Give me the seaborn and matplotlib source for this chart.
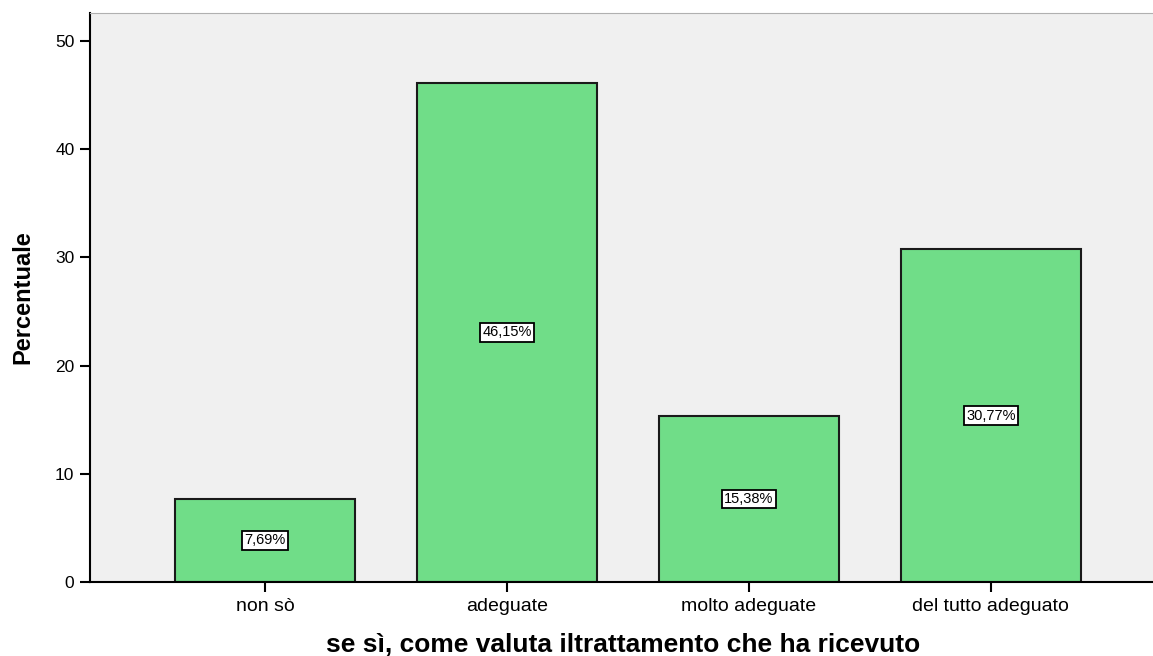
import pandas as pd
import seaborn as sns
import matplotlib.pyplot as plt

# Data
categorie = ['non sò', 'adeguate', 'molto adeguate', 'del tutto adeguato']
percentuali = [7.69, 46.15, 15.38, 30.77]
etichette = ['7,69%', '46,15%', '15,38%', '30,77%']

df = pd.DataFrame({'categoria': categorie, 'percentuale': percentuali})

sns.set_style('white')
plt.rcParams['font.family'] = ['Liberation Sans', 'DejaVu Sans']
plt.rcParams['text.color'] = 'black'
plt.rcParams['axes.labelcolor'] = 'black'
plt.rcParams['xtick.color'] = 'black'
plt.rcParams['ytick.color'] = 'black'

fig = plt.figure(figsize=(11.53, 6.56), dpi=100)
ax = fig.add_axes([0.078, 0.1128, 0.922, 0.8674])
ax.set_facecolor('#f0f0f0')

sns.barplot(data=df, x='categoria', y='percentuale', color='#70dd88',
            saturation=1, width=0.744, edgecolor='#1a1a1a', linewidth=1.5, ax=ax)

# value boxes in the middle of each bar
for i, (v, lab) in enumerate(zip(percentuali, etichette)):
    ax.text(i, v / 2, lab, ha='center', va='center', fontsize=10.5,
            bbox=dict(boxstyle='square,pad=0.15', facecolor='white', edgecolor='black', linewidth=1.3))

ax.set_xlim(-0.723, 3.67)
ax.set_ylim(0, 52.6)
ax.set_yticks([0, 10, 20, 30, 40, 50])

ax.spines['right'].set_visible(False)
ax.spines['top'].set_color('#b0b0b0')
ax.spines['left'].set_color('black')
ax.spines['bottom'].set_color('black')
ax.spines['left'].set_linewidth(1.5)
ax.spines['bottom'].set_linewidth(1.5)

ax.tick_params(axis='both', direction='out', length=7.2, width=1.5,
               bottom=True, left=True)
ax.tick_params(axis='x', labelsize=14, pad=4)
ax.tick_params(axis='y', labelsize=12.5, pad=4)

ax.set_xlabel('se sì, come valuta iltrattamento che ha ricevuto', fontsize=19, fontweight='bold')
ax.set_ylabel('Percentuale', fontsize=17, fontweight='bold')
ax.xaxis.set_label_coords(0.502, -0.123)
ax.xaxis.label.set_va('baseline')
ax.yaxis.set_label_coords(-0.0635, 0.5)
ax.yaxis.label.set_va('center')

fig.savefig('out.png', dpi=100)
